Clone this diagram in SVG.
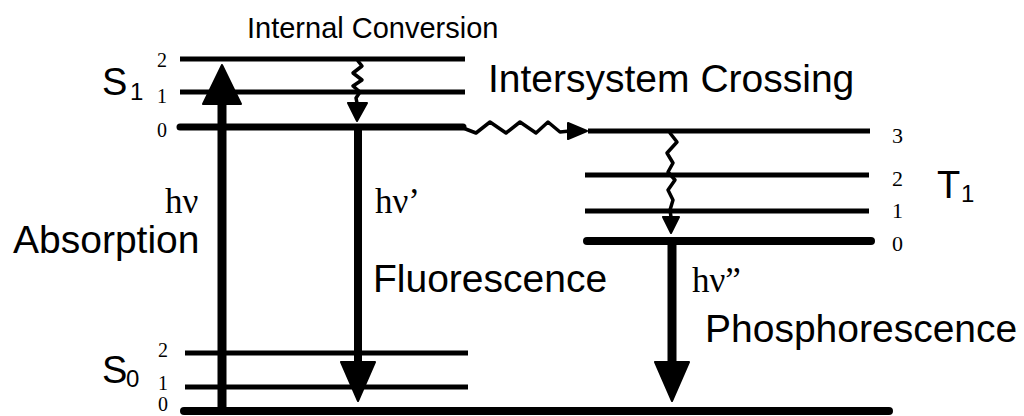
<svg xmlns="http://www.w3.org/2000/svg" width="1024" height="416" viewBox="0 0 1024 416">
<style>
.lvl{stroke:#000;stroke-width:5;fill:none}
.lvl0{stroke:#000;stroke-width:8;stroke-linecap:round;fill:none}
.num{font-family:"Liberation Serif","Times New Roman",serif;font-size:20px;fill:#000}
.numT{font-family:"Liberation Serif","Times New Roman",serif;font-size:22px;fill:#000}
.lab{font-family:"Liberation Sans",Arial,sans-serif;font-size:39px;fill:#000}
.st{font-family:"Liberation Sans",Arial,sans-serif;font-size:38px;fill:#000}
.sub{font-family:"Liberation Sans",Arial,sans-serif;font-size:24px;fill:#000}
.hv{font-family:"Liberation Serif","Times New Roman",serif;font-size:35px;fill:#000}
.shaft{stroke:#000;fill:none}
.wave{stroke:#000;stroke-width:3.5;fill:none;stroke-linejoin:round;stroke-linecap:round}
.head{fill:#000;stroke:#000;stroke-width:2;stroke-linejoin:round}
</style>
<rect width="1024" height="416" fill="#fff"/>

<g id="S1">
  <line class="lvl" x1="180" y1="59" x2="465" y2="59"/>
  <line class="lvl" x1="180" y1="92" x2="465" y2="92"/>
  <line class="lvl0" x1="180" y1="127" x2="463" y2="127" style="stroke-width:7"/>
  <text class="num" x="157" y="67">2</text>
  <text class="num" x="157" y="103">1</text>
  <text class="num" x="157" y="137">0</text>
  <text class="st" x="102" y="95">S</text>
  <text class="sub" x="130" y="100">1</text>
</g>

<g id="S0">
  <line class="lvl" x1="185" y1="353" x2="468" y2="353"/>
  <line class="lvl" x1="185" y1="387" x2="468" y2="387"/>
  <line class="lvl0" x1="184" y1="411" x2="889" y2="411"/>
  <text class="num" x="158" y="357">2</text>
  <text class="num" x="158" y="390">1</text>
  <text class="num" x="158" y="411">0</text>
  <text class="st" x="102" y="383">S</text>
  <text class="sub" x="126" y="387">0</text>
</g>

<g id="T1">
  <line class="lvl" x1="588" y1="131" x2="870" y2="131"/>
  <line class="lvl" x1="585" y1="175" x2="869" y2="175"/>
  <line class="lvl" x1="585" y1="211" x2="869" y2="211"/>
  <line class="lvl0" x1="587" y1="241" x2="871" y2="241"/>
  <text class="numT" x="892" y="143">3</text>
  <text class="numT" x="892" y="186">2</text>
  <text class="numT" x="892" y="218">1</text>
  <text class="numT" x="892" y="251">0</text>
  <text class="st" x="937" y="198">T</text>
  <text class="sub" x="961" y="202">1</text>
</g>

<g id="connectors">
  <g id="absorption">
    <line class="shaft" x1="222" y1="102" x2="222" y2="414" style="stroke-width:9"/>
    <polygon class="head" points="222,65 203,104 241,104"/>
  </g>
  <g id="internal-conversion">
    <polyline class="wave" points="358,61 362,66 353,73 362,80 353,86 360,92 356,98 357,103"/>
    <polygon class="head" points="348,103 367,103 357,121"/>
  </g>
  <g id="fluorescence">
    <line class="shaft" x1="358" y1="127" x2="358" y2="364" style="stroke-width:8"/>
    <polygon class="head" points="358,401 341,362 375,362"/>
  </g>
  <g id="intersystem-crossing">
    <polyline class="wave" points="463,128 476,133 490,122 506,133 520,122 536,133 548,122 560,132 570,131"/>
    <polygon class="head" points="568,123 587,131 568,139"/>
  </g>
  <g id="t1-relaxation">
    <polyline class="wave" points="670,133 677,142 667,153 673,163 668,172 675,180 668,190 673,200 670,210 671,217"/>
    <polygon class="head" points="663,217 679,217 671,233"/>
  </g>
  <g id="phosphorescence">
    <line class="shaft" x1="672" y1="241" x2="672" y2="364" style="stroke-width:9"/>
    <polygon class="head" points="672,401 655,362 689,362"/>
  </g>
</g>

<g id="labels">
  <text class="lab" x="247" y="38" style="font-size:29px">Internal Conversion</text>
  <text class="lab" x="488" y="92">Intersystem Crossing</text>
  <text class="hv" x="165" y="213">hν</text>
  <text class="lab" x="13" y="253">Absorption</text>
  <text class="hv" x="375" y="213">hν’</text>
  <text class="lab" x="373" y="292">Fluorescence</text>
  <text class="hv" x="692" y="292">hν”</text>
  <text class="lab" x="705" y="342">Phosphorescence</text>
</g>
</svg>
